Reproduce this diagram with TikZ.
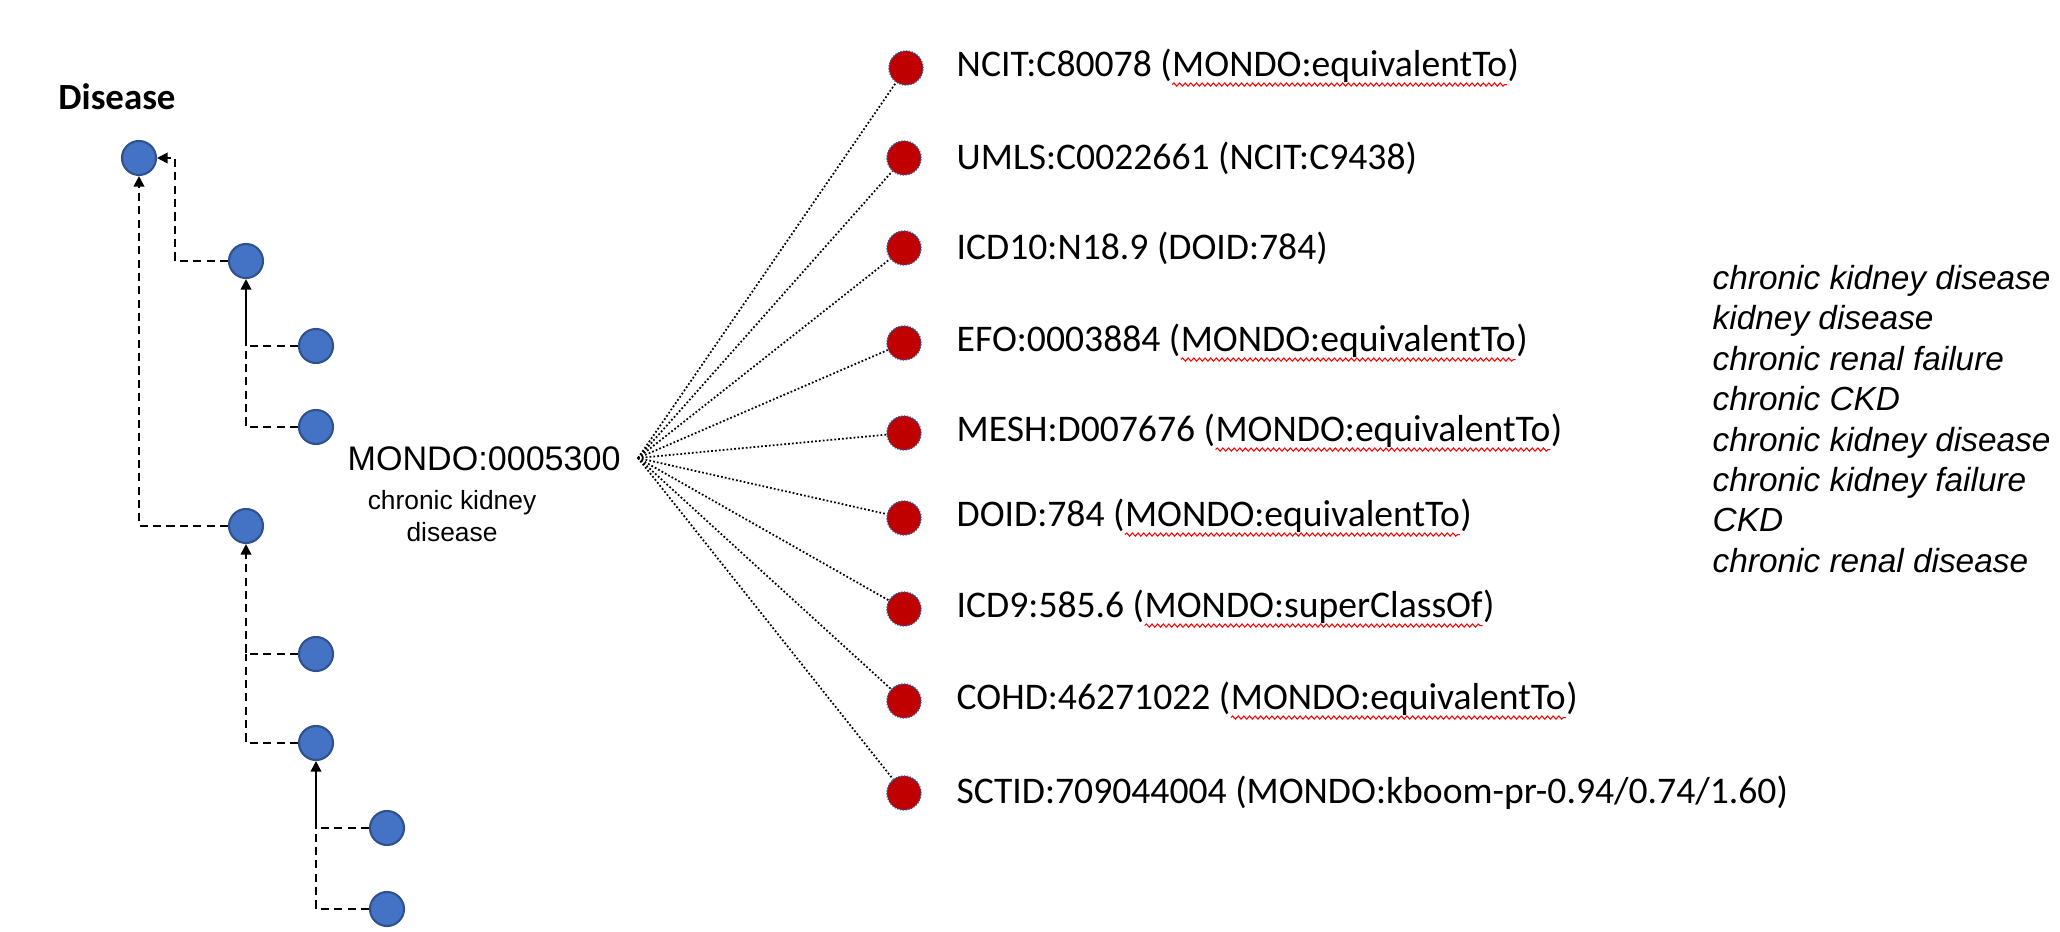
\documentclass[tikz,border=0pt]{standalone}
\usepackage{fontspec}
\setmainfont{Carlito}
\newfontfamily\arialfont{Liberation Sans}
\usetikzlibrary{arrows.meta,positioning,decorations.pathmorphing}

\definecolor{nodeblue}{HTML}{4472C4}
\definecolor{edgeblue}{HTML}{2F528F}
\definecolor{xrefred}{HTML}{C00000}

% red spell-check wave under a word
\newcommand{\wavy}[1]{\tikz[baseline=(w.base)]{\node[inner sep=0pt,outer sep=0pt] (w) {#1};
  \draw[red,line width=0.3pt,decorate,decoration={snake,amplitude=0.45pt,segment length=1.6pt}]
    ([yshift=-2.2pt]w.base west) -- ([yshift=-2.2pt]w.base east);}}

\begin{document}
\begin{tikzpicture}[
  cls/.style={circle,fill=nodeblue,draw=edgeblue,line width=0.6pt,minimum size=0.34cm,inner sep=0pt},
  xref/.style={circle,fill=xrefred,draw=edgeblue,line width=0.4pt,dash pattern=on 0.4pt off 0.4pt,minimum size=0.34cm,inner sep=0pt},
  xlab/.style={inner sep=0pt,font=\fontsize{10.7}{12}\selectfont},
  isa/.style={line width=0.55pt,dash pattern=on 2.3pt off 1.5pt},
  tip/.style={-{Triangle[length=3pt,width=3pt]}},
  map/.style={line width=0.5pt,dash pattern=on 0.5pt off 0.6pt}]
\useasboundingbox (0,0) rectangle (20.6,9.32);

% class tree
\node [font=\bfseries\fontsize{10.5}{12}\selectfont] (dis) at (1.17,8.35) {Disease};
\node [cls] (A) at (1.39,7.74) {};
\node [cls] (B) at (2.46,6.71) {};
\node [cls] (C) at (3.16,5.86) {};
\node [cls] (D) at (3.16,5.05) {};
\node [cls] (E) at (2.46,4.06) {};
\node [cls] (F) at (3.16,2.78) {};
\node [cls] (G) at (3.16,1.89) {};
\node [cls] (H) at (3.87,1.04) {};
\node [cls] (I) at (3.87,0.23) {};

\draw [isa,tip] (B.west) -- ++(-0.53,0) |- (A.east);
\draw [isa,tip] (E.west) -| (A.south);
\draw [isa] (C.west) -- (C.west -| B.south);
\draw [line width=0.55pt,tip] (C.west -| B.south) -- (B.south);
\draw [isa] (D.west) -| (C.west -| B.south);
\draw [isa,tip] (F.west) -| (E.south);
\draw [isa] (G.west) -| (F.west -| E.south);
\draw [isa] (H.west) -- (H.west -| G.south);
\draw [line width=0.55pt,tip] (H.west -| G.south) -- (G.south);
\draw [isa] (I.west) -| (H.west -| G.south);

% the term
\node [anchor=west,inner sep=0pt,font=\arialfont\fontsize{9.7}{11}\selectfont] (mondo) at (3.47,4.73) {MONDO:0005300};
\node [align=center,inner sep=0pt,font=\arialfont\fontsize{7.5}{9.1}\selectfont] (ckd) at (4.52,4.16) {chronic kidney\\disease};
\coordinate (hub) at (6.38,4.74);

% cross references
\node [xref] (r1) at (9.06,8.64) {};
\node [xref] (r2) at (9.04,7.74) {};
\node [xref] (r3) at (9.04,6.84) {};
\node [xref] (r4) at (9.04,5.89) {};
\node [xref] (r5) at (9.04,4.99) {};
\node [xref] (r6) at (9.04,4.14) {};
\node [xref] (r7) at (9.04,3.23) {};
\node [xref] (r8) at (9.04,2.31) {};
\node [xref] (r9) at (9.04,1.39) {};

\draw [map] (hub) -- (r1);
\draw [map] (hub) -- (r2);
\draw [map] (hub) -- (r3);
\draw [map] (hub) -- (r4);
\draw [map] (hub) -- (r5);
\draw [map] (hub) -- (r6);
\draw [map] (hub) -- (r7);
\draw [map] (hub) -- (r8);
\draw [map] (hub) -- (r9);

\node [xlab,anchor=west] (l1) at (9.56,8.64) {NCIT:C80078 (\wavy{MONDO:equivalentTo})};
\node [xlab,anchor=west] (l2) at (9.56,7.74) {UMLS:C0022661 (NCIT:C9438)};
\node [xlab,anchor=west] (l3) at (9.56,6.84) {ICD10:N18.9 (DOID:784)};
\node [xlab,anchor=west] (l4) at (9.56,5.89) {EFO:0003884 (\wavy{MONDO:equivalentTo})};
\node [xlab,anchor=west] (l5) at (9.56,4.99) {MESH:D007676 (\wavy{MONDO:equivalentTo})};
\node [xlab,anchor=west] (l6) at (9.56,4.14) {DOID:784 (\wavy{MONDO:equivalentTo})};
\node [xlab,anchor=west] (l7) at (9.56,3.23) {ICD9:585.6 (\wavy{MONDO:superClassOf})};
\node [xlab,anchor=west] (l8) at (9.56,2.31) {COHD:46271022 (\wavy{MONDO:equivalentTo})};
\node [xlab,anchor=west] (l9) at (9.56,1.39) {SCTID:709044004 (MONDO:kboom-pr-0.94/0.74/1.60)};

% synonyms
\node [anchor=west,align=left,inner sep=0pt,font=\arialfont\itshape\fontsize{9.5}{11.5}\selectfont] (syn) at (17.12,5.13)
  {chronic kidney disease\\kidney disease\\chronic renal failure\\chronic CKD\\chronic kidney disease\\chronic kidney failure\\CKD\\chronic renal disease};
\end{tikzpicture}
\end{document}
